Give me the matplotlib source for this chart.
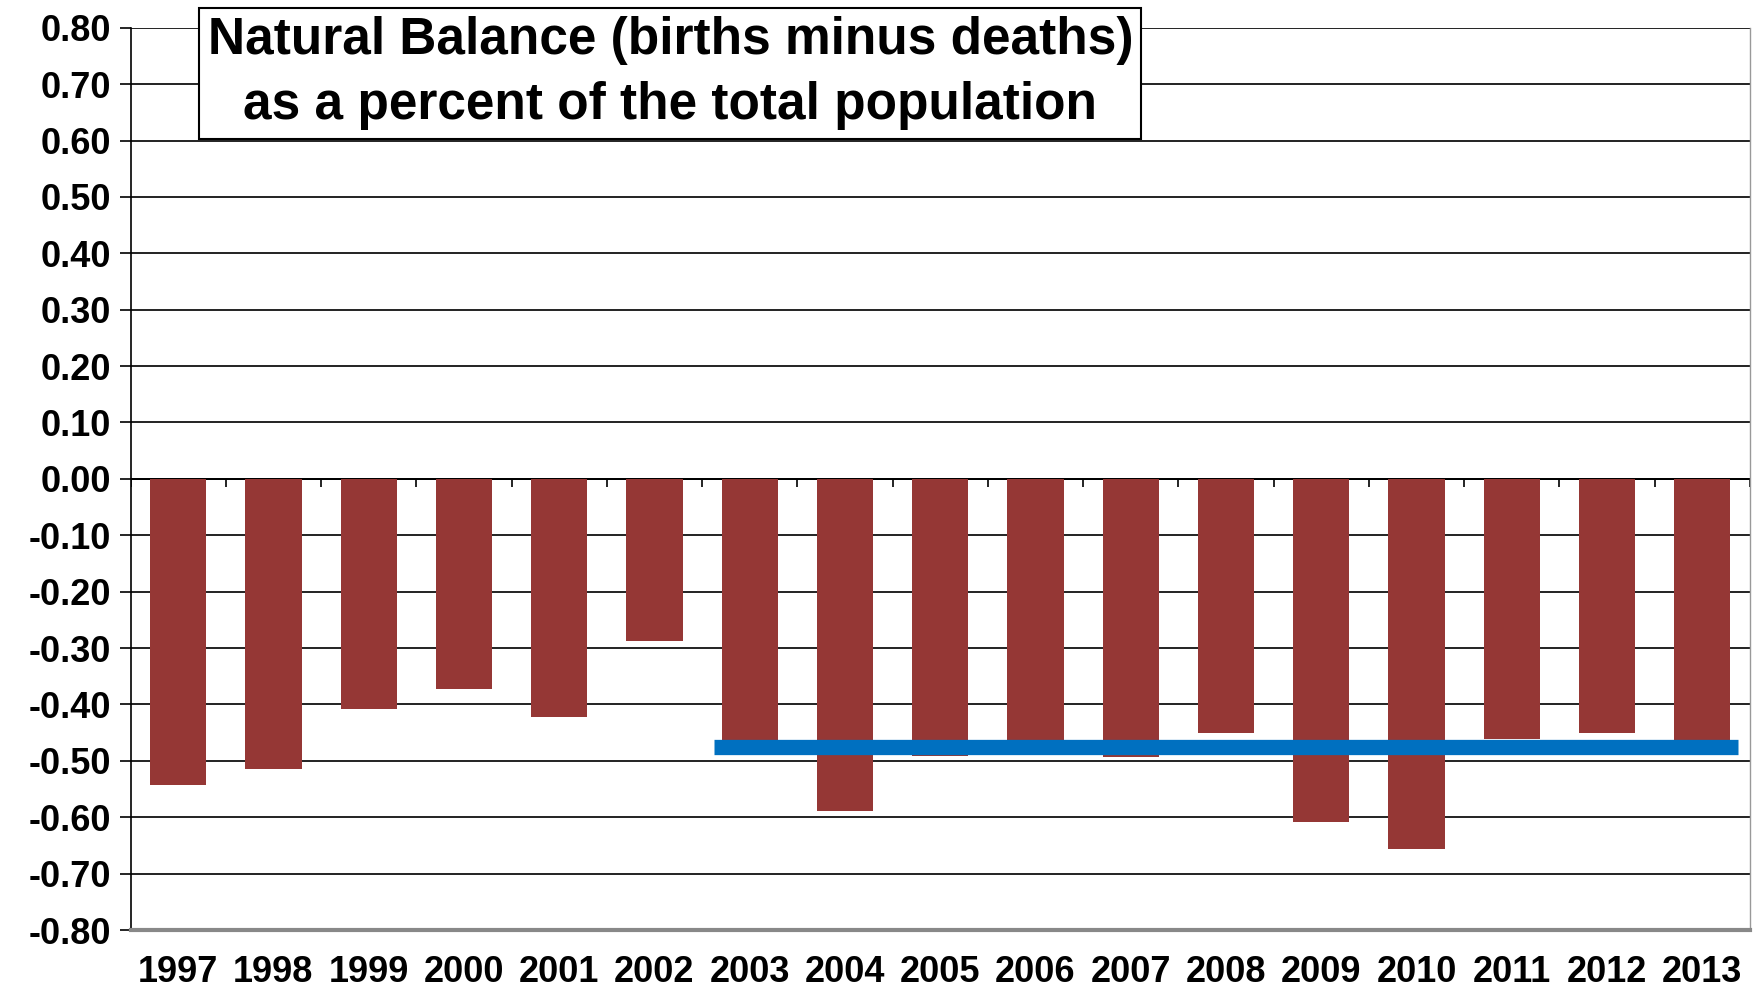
import numpy as np
import matplotlib.pyplot as plt

plt.rcParams['font.family'] = ['Liberation Sans', 'DejaVu Sans']
plt.rcParams['font.weight'] = 'bold'

# data
years = ['1997', '1998', '1999', '2000', '2001', '2002', '2003', '2004', '2005',
         '2006', '2007', '2008', '2009', '2010', '2011', '2012', '2013']
balance = [-0.543, -0.515, -0.408, -0.373, -0.422, -0.288, -0.480, -0.589, -0.491,
           -0.478, -0.493, -0.450, -0.608, -0.656, -0.462, -0.450, -0.480]
avg_level = -0.476
avg_start, avg_end = '2003', '2013'

title = 'Natural Balance (births minus deaths)\nas a percent of the total population'
yticks = np.round(np.arange(-0.8, 0.81, 0.1), 2)

fig = plt.figure(figsize=(17.64, 9.92), dpi=100)
ax = fig.add_axes([0.074, 0.0625, 0.918, 0.9095])

x = np.arange(len(years))
ax.bar(x, balance, width=0.59, color='#953735', zorder=2)

# average line over 2003-2013
i0, i1 = years.index(avg_start), years.index(avg_end)
ax.hlines(avg_level, i0 - 0.38, i1 + 0.37, color='#0070C0', linewidth=11, zorder=3)

ax.set_xlim(-0.5, len(years) - 0.5)
ax.set_ylim(-0.8, 0.8)
ax.set_yticks(yticks)
ax.set_yticklabels(['%.2f' % (v + 0.0) for v in yticks], fontsize=26, fontweight='bold')
ax.yaxis.grid(True, color='#222222', linewidth=1.4, zorder=0)
ax.set_axisbelow(True)
ax.tick_params(axis='y', length=8, width=1.2, pad=6)

ax.set_xticks(x)
ax.set_xticklabels(years, fontsize=26, fontweight='bold')
ax.tick_params(axis='x', length=0, pad=18)

# category ticks on the zero line
ax.vlines(np.arange(len(years) + 1) - 0.5, -0.014, 0, color='black', linewidth=1.2, zorder=1)
ax.axhline(0, color='black', linewidth=1.4, zorder=1)

ax.spines['top'].set_visible(False)
ax.spines['left'].set_color('black')
ax.spines['left'].set_linewidth(1.2)
ax.spines['bottom'].set_color('#888888')
ax.spines['bottom'].set_linewidth(3)
ax.spines['right'].set_color('#999999')
ax.spines['right'].set_linewidth(1)

fig.text(0.380, 0.926, title, ha='center', va='center', fontsize=37, fontweight='bold',
         linespacing=1.42,
         bbox=dict(boxstyle='square,pad=0.16', facecolor='white', edgecolor='black', linewidth=1.5))

fig.savefig('out.png', dpi=100)
